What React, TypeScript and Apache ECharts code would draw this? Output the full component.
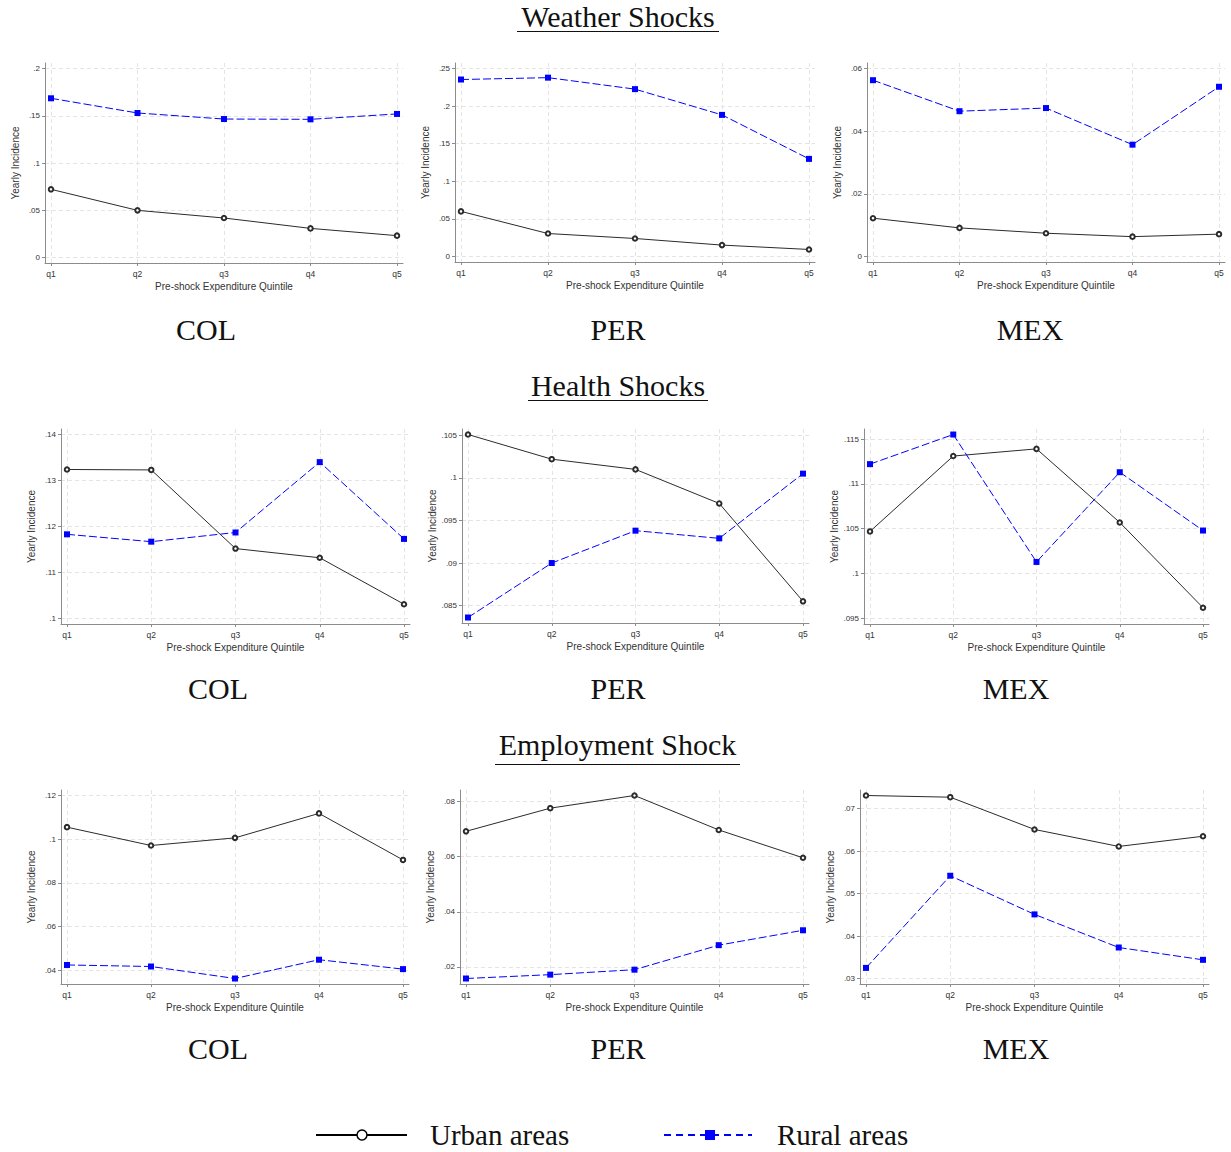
import React, { useEffect, useRef } from 'react';
import * as echarts from 'echarts';

// ---------------- DATA ----------------
const quintiles = ['q1', 'q2', 'q3', 'q4', 'q5'];
const countries = ['COL', 'PER', 'MEX'];
const shockTitles = ['Weather Shocks', 'Health Shocks', 'Employment Shock'];
const legendNames = ['Urban areas', 'Rural areas'];
const yAxisName = 'Yearly Incidence';
const xAxisName = 'Pre-shock Expenditure Quintile';

const weatherColUrban = [0.0721, 0.0498, 0.0417, 0.0307, 0.023];
const weatherColRural = [0.1686, 0.153, 0.1466, 0.1463, 0.152];
const weatherPerUrban = [0.0599, 0.0304, 0.0238, 0.015, 0.0092];
const weatherPerRural = [0.2355, 0.238, 0.2227, 0.1884, 0.1298];
const weatherMexUrban = [0.0122, 0.0091, 0.0074, 0.0063, 0.0071];
const weatherMexRural = [0.0563, 0.0464, 0.0474, 0.0357, 0.0542];

const healthColUrban = [0.1324, 0.1323, 0.1152, 0.1132, 0.1031];
const healthColRural = [0.1183, 0.1167, 0.1187, 0.134, 0.1173];
const healthPerUrban = [0.1051, 0.1022, 0.101, 0.097, 0.0855];
const healthPerRural = [0.0836, 0.09, 0.0938, 0.0929, 0.1005];
const healthMexUrban = [0.1047, 0.1131, 0.1139, 0.1057, 0.0962];
const healthMexRural = [0.1122, 0.1155, 0.1013, 0.1113, 0.1048];

const employColUrban = [0.1055, 0.0971, 0.1006, 0.1118, 0.0905];
const employColRural = [0.0424, 0.0417, 0.0362, 0.0448, 0.0405];
const employPerUrban = [0.0692, 0.0776, 0.0822, 0.0697, 0.0596];
const employPerRural = [0.0158, 0.0172, 0.019, 0.0279, 0.0333];
const employMexUrban = [0.0731, 0.0727, 0.0651, 0.0611, 0.0635];
const employMexRural = [0.0325, 0.0542, 0.0451, 0.0373, 0.0344];

const weatherColTicks = [0, 0.05, 0.1, 0.15, 0.2];
const weatherPerTicks = [0, 0.05, 0.1, 0.15, 0.2, 0.25];
const weatherMexTicks = [0, 0.02, 0.04, 0.06];
const healthColTicks = [0.1, 0.11, 0.12, 0.13, 0.14];
const healthPerTicks = [0.085, 0.09, 0.095, 0.1, 0.105];
const healthMexTicks = [0.095, 0.1, 0.105, 0.11, 0.115];
const employColTicks = [0.04, 0.06, 0.08, 0.1, 0.12];
const employPerTicks = [0.02, 0.04, 0.06, 0.08];
const employMexTicks = [0.03, 0.04, 0.05, 0.06, 0.07];

const panelData = [
  { urban: weatherColUrban, rural: weatherColRural, ticks: weatherColTicks },
  { urban: weatherPerUrban, rural: weatherPerRural, ticks: weatherPerTicks },
  { urban: weatherMexUrban, rural: weatherMexRural, ticks: weatherMexTicks },
  { urban: healthColUrban, rural: healthColRural, ticks: healthColTicks },
  { urban: healthPerUrban, rural: healthPerRural, ticks: healthPerTicks },
  { urban: healthMexUrban, rural: healthMexRural, ticks: healthMexTicks },
  { urban: employColUrban, rural: employColRural, ticks: employColTicks },
  { urban: employPerUrban, rural: employPerRural, ticks: employPerTicks },
  { urban: employMexUrban, rural: employMexRural, ticks: employMexTicks },
];

// ---------------- LAYOUT ----------------
// [left, top, right, bottom] of each plot region (axis lines)
const panelBoxes = [
  [45, 63, 403, 263],
  [455, 63, 815, 262],
  [867, 63, 1225, 262],
  [61, 429, 410, 624],
  [462, 429, 809, 623],
  [864, 429, 1209, 624],
  [61, 790, 409, 984],
  [460, 790, 809, 984],
  [860, 790, 1209, 984],
];
const titleLayout = [
  { y: 16, ul: 31.5, x0: 517, x1: 719 },
  { y: 385, ul: 400.5, x0: 528, x1: 708 },
  { y: 744, ul: 764.5, x0: 495, x1: 740 },
];
const countryRows = [
  { y: 329, xs: [206, 618, 1030] },
  { y: 688, xs: [218, 618, 1016] },
  { y: 1048, xs: [218, 618, 1016] },
];

const SERIF = '"Liberation Serif", "DejaVu Serif", serif';
const SANS = '"Liberation Sans", Arial, sans-serif';
const URBAN_COLOR = '#2b2b2b';
const RURAL_COLOR = '#0000ff';
const GRID_COLOR = '#e4e4e4';
const AXIS_COLOR = '#8c8c8c';
const LABEL_COLOR = '#333333';

function fmtY(v: number): string {
  const s = String(parseFloat(Number(v).toFixed(4)));
  if (s === '0') return '0';
  return s.replace(/^0\./, '.');
}

function buildOption() {
  const grid: any[] = [];
  const xAxis: any[] = [];
  const yAxis: any[] = [];
  const series: any[] = [];

  panelData.forEach((p, i) => {
    const [l, t, r, b] = panelBoxes[i];
    const w = r - l;
    const h = b - t;
    grid.push({ left: l, top: t, width: w, height: h, outerBoundsMode: 'none', containLabel: false });

    const padPx = 6;
    const unit = (w - 2 * padPx) / (quintiles.length - 1);
    const xPad = padPx / unit;
    const xVals = quintiles.map((_, j) => j + 1);
    xAxis.push({
      type: 'value',
      gridIndex: i,
      min: 1 - xPad,
      max: quintiles.length + xPad,
      name: xAxisName,
      nameLocation: 'middle',
      nameGap: 18,
      nameMoveOverlap: false,
      nameTextStyle: { fontFamily: SANS, fontSize: 10, color: LABEL_COLOR },
      axisLine: { show: true, onZero: false, lineStyle: { color: AXIS_COLOR, width: 1 } },
      axisTick: { show: true, length: 3, customValues: xVals, lineStyle: { color: AXIS_COLOR } },
      axisLabel: {
        show: true,
        customValues: xVals,
        margin: 6,
        fontFamily: SANS,
        fontSize: 8.5,
        color: LABEL_COLOR,
        formatter: (v: number) => quintiles[Math.round(v) - 1] ?? '',
      },
      splitLine: { show: true, lineStyle: { color: GRID_COLOR, type: [4, 3], width: 1 } },
    });

    const all = p.urban.concat(p.rural);
    const lo = Math.min(p.ticks[0], Math.min(...all));
    const hi = Math.max(p.ticks[p.ticks.length - 1], Math.max(...all));
    const yPad = (hi - lo) * 0.03;
    yAxis.push({
      type: 'value',
      gridIndex: i,
      min: lo - yPad,
      max: hi + yPad,
      name: yAxisName,
      nameLocation: 'middle',
      nameGap: 25,
      nameMoveOverlap: false,
      nameTextStyle: { fontFamily: SANS, fontSize: 10, color: LABEL_COLOR },
      axisLine: { show: true, onZero: false, lineStyle: { color: AXIS_COLOR, width: 1 } },
      axisTick: { show: true, length: 3, customValues: p.ticks, lineStyle: { color: AXIS_COLOR } },
      axisLabel: {
        show: true,
        customValues: p.ticks,
        margin: 5,
        fontFamily: SANS,
        fontSize: 8,
        color: LABEL_COLOR,
        formatter: (v: number) => fmtY(v),
      },
      splitLine: { show: true, lineStyle: { color: GRID_COLOR, type: [4, 3], width: 1 } },
    });

    series.push({
      type: 'line',
      name: legendNames[0],
      xAxisIndex: i,
      yAxisIndex: i,
      data: p.urban.map((v, j) => [j + 1, v]),
      symbol: 'emptyCircle',
      symbolSize: 4.5,
      showSymbol: true,
      silent: true,
      lineStyle: { color: URBAN_COLOR, width: 1 },
      itemStyle: { color: URBAN_COLOR, borderColor: '#444', borderWidth: 1 },
      z: 3,
    });
    series.push({
      type: 'line',
      name: legendNames[1],
      xAxisIndex: i,
      yAxisIndex: i,
      data: p.rural.map((v, j) => [j + 1, v]),
      symbol: 'rect',
      symbolSize: 6,
      showSymbol: true,
      silent: true,
      lineStyle: { color: RURAL_COLOR, width: 1, type: [8, 3] },
      itemStyle: { color: RURAL_COLOR },
      z: 4,
    });
  });

  const graphic: any[] = [];
  shockTitles.forEach((title, r) => {
    const tl = titleLayout[r];
    graphic.push({
      type: 'text',
      x: (tl.x0 + tl.x1) / 2,
      y: tl.y,
      style: {
        text: title,
        fontFamily: SERIF,
        fontSize: 30,
        fill: '#111',
        align: 'center',
        verticalAlign: 'middle',
      },
    });
    graphic.push({
      type: 'line',
      shape: { x1: tl.x0, y1: tl.ul, x2: tl.x1, y2: tl.ul },
      style: { stroke: '#111', lineWidth: 1.2 },
    });
  });
  countryRows.forEach((row) => {
    row.xs.forEach((x, c) => {
      graphic.push({
        type: 'text',
        x,
        y: row.y,
        style: {
          text: countries[c],
          fontFamily: SERIF,
          fontSize: 30,
          fill: '#111',
          align: 'center',
          verticalAlign: 'middle',
        },
      });
    });
  });

  // legend
  const ly = 1135;
  graphic.push({
    type: 'group',
    children: [
      { type: 'line', shape: { x1: 316, y1: ly, x2: 407, y2: ly }, style: { stroke: '#000', lineWidth: 2 } },
      { type: 'circle', shape: { cx: 362, cy: ly, r: 5 }, style: { fill: '#fff', stroke: '#000', lineWidth: 1.5 } },
      {
        type: 'text',
        x: 430,
        y: ly,
        style: { text: legendNames[0], fontFamily: SERIF, fontSize: 29, fill: '#111', align: 'left', verticalAlign: 'middle' },
      },
      {
        type: 'line',
        shape: { x1: 664, y1: ly, x2: 752, y2: ly },
        style: { stroke: RURAL_COLOR, lineWidth: 2, lineDash: [7, 5] },
      },
      { type: 'rect', shape: { x: 705, y: ly - 5, width: 10, height: 10 }, style: { fill: RURAL_COLOR } },
      {
        type: 'text',
        x: 777,
        y: ly,
        style: { text: legendNames[1], fontFamily: SERIF, fontSize: 29, fill: '#111', align: 'left', verticalAlign: 'middle' },
      },
    ],
  });

  return {
    animation: false,
    backgroundColor: '#ffffff',
    textStyle: { fontFamily: SANS },
    grid,
    xAxis,
    yAxis,
    series,
    graphic,
  };
}

export default function App() {
  const ref = useRef<HTMLDivElement>(null);
  useEffect(() => {
    document.body.style.margin = '0';
    document.body.style.overflow = 'hidden';
    if (!ref.current) return;
    const chart = echarts.init(ref.current, undefined, { renderer: 'svg' });
    chart.setOption(buildOption() as any);
    return () => {
      chart.dispose();
    };
  }, []);
  return <div ref={ref} style={{ width: 1231, height: 1152, background: '#fff' }} />;
}
